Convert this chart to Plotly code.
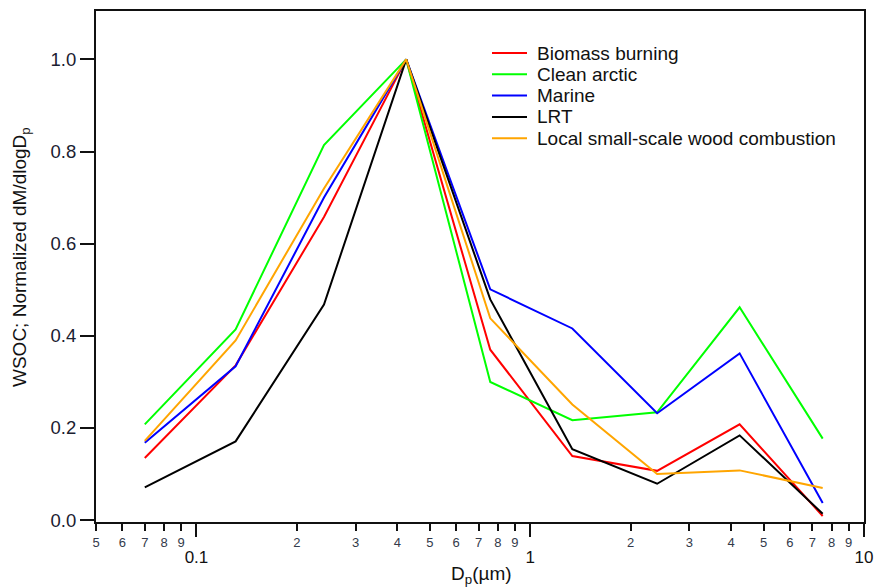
import plotly.graph_objects as go

dp = [0.070, 0.131, 0.241, 0.425, 0.759, 1.337, 2.40, 4.24, 7.52]

biomass = [0.135, 0.336, 0.658, 1.0, 0.370, 0.139, 0.107, 0.208, 0.009]
clean_arctic = [0.208, 0.414, 0.814, 1.0, 0.300, 0.217, 0.234, 0.462, 0.177]
marine = [0.168, 0.334, 0.700, 1.0, 0.501, 0.416, 0.232, 0.362, 0.037]
lrt = [0.071, 0.171, 0.468, 1.0, 0.479, 0.154, 0.079, 0.184, 0.014]
local_wood = [0.172, 0.390, 0.720, 1.0, 0.438, 0.251, 0.100, 0.108, 0.070]

names = ["Biomass burning", "Clean arctic", "Marine", "LRT",
         "Local small-scale wood combustion"]
values = [biomass, clean_arctic, marine, lrt, local_wood]
colors = ["#FF0000", "#00FF00", "#0000FF", "#000000", "#FFA500"]

major_vals = [0.1, 1, 10]
major_text = ["0.1", "1", "10"]
minor_vals = [0.05, 0.06, 0.07, 0.08, 0.09,
              0.2, 0.3, 0.4, 0.5, 0.6, 0.7, 0.8, 0.9,
              2, 3, 4, 5, 6, 7, 8, 9]
minor_text = ["5", "6", "7", "8", "9",
              "2", "3", "4", "5", "6", "7", "8", "9",
              "2", "3", "4", "5", "6", "7", "8", "9"]

y_ticks = [0.0, 0.2, 0.4, 0.6, 0.8, 1.0]

W, H = 875, 587
ML, MR, MT, MB = 96, 11, 11, 65
PW, PH = W - ML - MR, H - MT - MB

def px_x(p):
    return (p - ML) / PW

def px_y(p):
    return (H - MB - p) / PH

FONT = "Liberation Sans, Arial, sans-serif"

fig = go.Figure()
for name, vals, color in zip(names, values, colors):
    fig.add_trace(go.Scatter(x=dp, y=vals, mode="lines", name=name,
                             line=dict(color=color, width=2), showlegend=False))

# invisible trace to activate the minor-label axis
fig.add_trace(go.Scatter(x=[0.1], y=[None], xaxis="x2", showlegend=False,
                         hoverinfo="skip", mode="lines"))

# manual legend
shapes = []
annotations = []
for i, (name, color) in enumerate(zip(names, colors)):
    yc = 53 + 21.3 * i
    shapes.append(dict(type="line", xref="paper", yref="paper",
                       x0=px_x(492), x1=px_x(527), y0=px_y(yc), y1=px_y(yc),
                       line=dict(color=color, width=2)))
    annotations.append(dict(text=name, xref="paper", yref="paper",
                            x=px_x(535), y=px_y(yc), xanchor="left",
                            yanchor="middle", showarrow=False,
                            font=dict(size=19, color="#111111", family=FONT)))

annotations.append(dict(text="D<sub>p</sub>(µm)", xref="paper", yref="paper",
                        x=px_x(481), y=px_y(575), xanchor="center",
                        yanchor="middle", showarrow=False,
                        font=dict(size=19, color="#111111", family=FONT)))
annotations.append(dict(text="WSOC; Normalized dM/dlogD<sub>p</sub>",
                        xref="paper", yref="paper", textangle=-90,
                        x=px_x(21), y=px_y(257), xanchor="center",
                        yanchor="middle", showarrow=False,
                        font=dict(size=19, color="#111111", family=FONT)))

xr = [-1.30103, 1.0]
fig.update_layout(
    width=W, height=H,
    margin=dict(l=ML, r=MR, t=MT, b=MB, autoexpand=False),
    paper_bgcolor="white", plot_bgcolor="white",
    font=dict(family=FONT, color="#111111"),
    showlegend=False,
    shapes=shapes,
    annotations=annotations,
    xaxis=dict(type="log", range=xr, tickmode="array", tickvals=major_vals,
               ticktext=major_text, ticks="outside", ticklen=13, tickwidth=2,
               tickcolor="#111111", showline=True, linewidth=2, linecolor="#111111",
               mirror=True, showgrid=False, zeroline=False, automargin=False,
               tickfont=dict(size=17, color="#111111"), ticklabelstandoff=6),
    xaxis2=dict(type="log", range=xr, overlaying="x", anchor="y", side="bottom",
                tickmode="array", tickvals=minor_vals, ticktext=minor_text,
                ticks="outside", ticklen=8, tickwidth=2, tickcolor="#111111",
                showline=False, showgrid=False, zeroline=False, automargin=False,
                tickfont=dict(size=13, color="#333a4a")),
    yaxis=dict(range=[-0.004, 1.105], tickmode="array", tickvals=y_ticks,
               tickformat=".1f", ticks="outside", ticklen=14, tickwidth=2,
               tickcolor="#111111", showline=True, linewidth=2, linecolor="#111111",
               mirror=True, showgrid=False, zeroline=False, automargin=False,
               tickfont=dict(size=18.5, color="#1a2030")),
)

fig.write_html("out.html")
